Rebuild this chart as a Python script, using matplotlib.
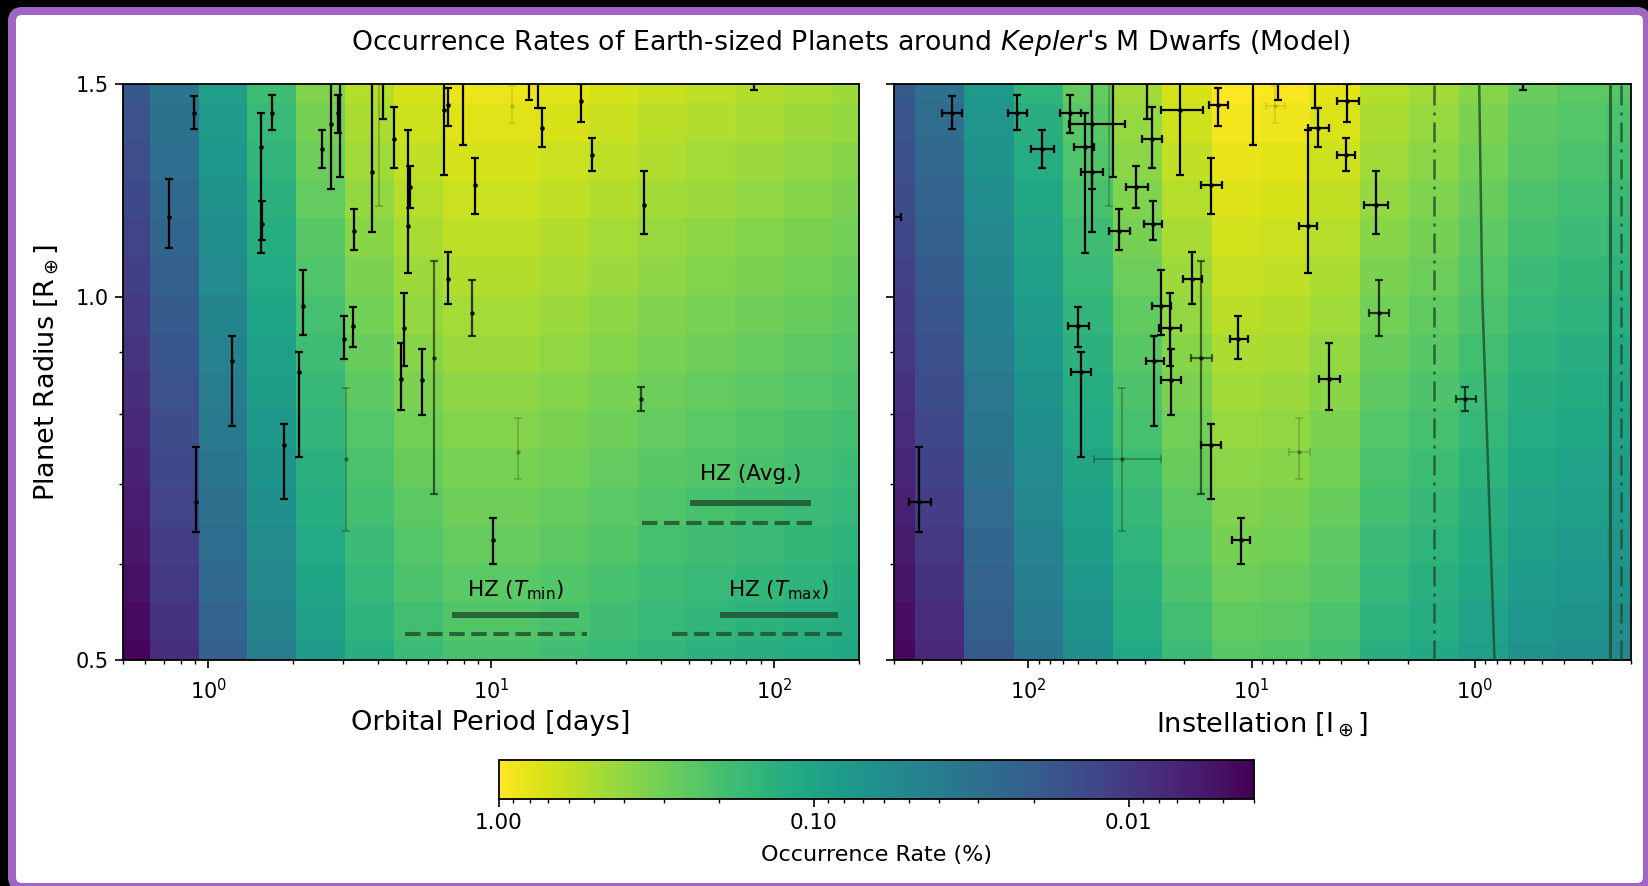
import numpy as np
import matplotlib
matplotlib.use("Agg")
import matplotlib.pyplot as plt
from matplotlib.colors import LogNorm
from matplotlib.ticker import FixedLocator, FormatStrFormatter, NullFormatter, LogLocator
from matplotlib.patches import FancyBboxPatch
from matplotlib.transforms import IdentityTransform

# ---------------- data ----------------
period_edges = [0.417, 0.621, 0.925, 1.376, 2.048, 3.048, 4.536, 6.75, 10.0,
                14.88, 22.13, 32.96, 49.0, 72.9, 108.6, 161.6, 240.4]
period_rate = [0.0105, 0.0203, 0.0518, 0.106, 0.206, 0.321, 0.423, 0.499,
               0.499, 0.459, 0.411, 0.368, 0.339, 0.312, 0.287, 0.264]
instellation_edges = [535.8, 322.1, 193.6, 116.1, 69.8, 42.0, 25.2, 15.1, 9.10,
                      5.46, 3.28, 1.97, 1.18, 0.711, 0.428, 0.2565, 0.154]
instellation_rate = [0.0111, 0.0182, 0.0464, 0.0852, 0.156, 0.272, 0.423, 0.589,
                     0.557, 0.472, 0.321, 0.272, 0.218, 0.165, 0.148, 0.133]
radius_centers = [0.500, 0.538, 0.579, 0.623, 0.670, 0.721, 0.776, 0.835,
                  0.898, 0.966, 1.040, 1.119, 1.204, 1.295, 1.394, 1.500]
radius_weight = [0.404, 0.445, 0.490, 0.539, 0.593, 0.652, 0.718, 0.790,
                 0.869, 0.957, 1.053, 1.158, 1.275, 1.403, 1.544, 1.699]

planet_period = [0.893, 0.725, 0.907, 1.211, 1.532, 1.553, 1.675, 1.852, 2.091, 2.172,
                 2.534, 2.711, 2.869, 2.916, 3.012, 3.258, 3.077, 3.285, 3.800, 4.034,
                 4.166, 4.543, 5.158, 5.102, 4.940, 4.796, 5.700, 6.300, 6.795, 7.038,
                 7.020, 7.946, 8.757, 8.598, 11.89, 13.61, 14.64, 15.20, 20.75, 22.80,
                 34.67, 33.93, 12.49, 10.19, 85.0]
planet_radius = [1.418, 1.163, 0.676, 0.884, 1.331, 1.149, 1.418, 0.753, 0.866, 0.982,
                 1.324, 1.390, 1.418, 1.56, 0.923, 0.945, 0.733, 1.133, 1.268, 1.56,
                 1.56, 1.351, 1.233, 1.145, 0.941, 0.855, 0.853, 0.889, 1.428, 1.442,
                 1.035, 1.56, 1.237, 0.970, 1.437, 1.56, 1.56, 1.379, 1.451, 1.311,
                 1.192, 0.823, 0.744, 0.628, 1.56]
radius_lo = [1.377, 1.097, 0.638, 0.782, 1.087, 1.115, 1.374, 0.680, 0.736, 0.930,
             1.279, 1.228, 1.367, 1.255, 0.887, 0.909, 0.639, 1.092, 1.131, 1.189,
             1.402, 1.279, 1.185, 1.047, 0.876, 0.805, 0.798, 0.686, 1.262, 1.384,
             0.986, 1.336, 1.171, 0.927, 1.392, 1.455, 1.434, 1.329, 1.395, 1.270,
             1.126, 0.804, 0.706, 0.601, 1.484]
radius_hi = [1.465, 1.252, 0.751, 0.927, 1.419, 1.200, 1.470, 0.784, 0.899, 1.053,
             1.374, 1.62, 1.468, 1.65, 0.963, 0.980, 0.840, 1.181, 1.62, 1.65,
             1.65, 1.435, 1.282, 1.374, 1.007, 0.916, 0.905, 1.070, 1.52, 1.489,
             1.088, 1.65, 1.303, 1.033, 1.493, 1.65, 1.65, 1.434, 1.50, 1.352,
             1.270, 0.841, 0.794, 0.655, 1.65]
planet_instellation = [220, 415, 308, 27.3, 55.9, 27.8, 113, 15.2, 58.4, 25.5,
                       87.1, 52.1, 65.3, 41.6, 11.5, 59.8, 38.2, 39.3, 52.1, 43.6,
                       29.4, 28.1, 33.0, 5.59, 23.3, 4.51, 23.1, 16.8, 21.0, 14.1,
                       18.5, 9.83, 15.2, 2.70, 7.85, 7.63, 5.18, 5.04, 3.73, 3.79,
                       2.78, 1.105, 6.12, 11.2, 0.612]
instellation_lo = [199, 373, 273, 24.6, 50.6, 25.3, 101, 13.7, 52.7, 23.0,
                   77.1, 36.9, 58.1, 37.5, 10.4, 53.5, 25.5, 35.2, 46.2, 39.0,
                   26.5, 25.3, 29.2, 5.09, 20.8, 4.02, 20.7, 15.1, 16.6, 12.8,
                   16.7, 8.9, 13.6, 2.42, 7.08, 6.9, 4.7, 4.51, 3.30, 3.45,
                   2.44, 0.993, 5.47, 10.2, 0.55]
instellation_hi = [243, 460, 342, 29.8, 62.2, 30.5, 124, 16.8, 64.3, 28.0,
                   97.3, 66.1, 72.4, 46.0, 12.5, 66.5, 50.9, 43.6, 58.1, 48.0,
                   32.5, 31.1, 36.6, 6.12, 25.9, 5.00, 25.6, 18.7, 25.6, 15.5,
                   20.3, 10.8, 16.8, 2.98, 8.65, 8.4, 5.7, 5.59, 4.14, 4.14,
                   3.13, 1.218, 6.79, 12.3, 0.67]
planet_alpha = [1, 1, 1, 1, 1, 1, 1, 1, 1, 1,
                1, 1, 1, 1, 1, 1, 0.3, 1, 1, 0.25,
                1, 1, 1, 1, 1, 1, 1, 0.55, 1, 1,
                1, 1, 1, 0.75, 0.1, 1, 1, 1, 1, 1,
                1, 0.65, 0.2, 1, 1]

# habitable-zone period ranges (days)
hz_avg_cons = [50.7, 135.5]
hz_avg_opt = [34.2, 141.6]
hz_tmin_cons = [7.3, 20.4]
hz_tmin_opt = [4.95, 21.8]
hz_tmax_cons = [64.4, 169.0]
hz_tmax_opt = [43.5, 177.0]
# habitable-zone instellation limits
hz_opt_inner = 1.52
hz_opt_outer = 0.222
hz_cons_outer = 0.248
runaway_radius = [0.5, 1.0, 1.5]
runaway_instellation = [0.817, 0.927, 0.957]

# ---------------- figure ----------------
W, H = 1648, 886
fig = plt.figure(figsize=(W / 100, H / 100), dpi=100)
fig.patch.set_facecolor("black")

frame = FancyBboxPatch((12, -1), 1635, 876,
                       boxstyle="round,pad=0,rounding_size=10",
                       transform=IdentityTransform(), facecolor="white",
                       edgecolor="#a066c4", linewidth=8 * 72 / 100, zorder=-5)
fig.add_artist(frame)

def fx(px):
    return px / W

def fy(py):
    return 1 - py / H

ax1 = fig.add_axes([fx(123), fy(660), fx(736), 576 / H])
ax2 = fig.add_axes([fx(894), fy(660), fx(737), 576 / H])
cax = fig.add_axes([fx(499), fy(799), fx(755), 39 / H])

norm = LogNorm(vmin=0.004, vmax=1.0)
r = np.array(radius_centers)
mid = np.sqrt(r[:-1] * r[1:])
radius_edges = np.concatenate([[r[0] ** 2 / mid[0]], mid, [r[-1] ** 2 / mid[-1]]])
Z1 = np.outer(radius_weight, period_rate)
Z2 = np.outer(radius_weight, instellation_rate)

mesh = ax1.pcolormesh(period_edges, radius_edges, Z1, norm=norm, cmap="viridis",
                      shading="flat", zorder=0)
ax2.pcolormesh(instellation_edges, radius_edges, Z2, norm=norm, cmap="viridis",
               shading="flat", zorder=0)

for ax in (ax1, ax2):
    ax.set_xscale("log")
    ax.set_yscale("log")
    ax.set_ylim(0.5, 1.5)
    ax.yaxis.set_major_locator(FixedLocator([0.5, 1.0, 1.5]))
    ax.yaxis.set_major_formatter(FormatStrFormatter("%.1f"))
    ax.yaxis.set_minor_locator(LogLocator(base=10, subs=np.arange(2, 10)))
    ax.yaxis.set_minor_formatter(NullFormatter())
    ax.tick_params(which="major", length=6, width=1.2, labelsize=15, pad=4)
    ax.tick_params(which="minor", length=3.2, width=1.0)
    ax.tick_params(axis="x", which="major", pad=7)
    for s in ax.spines.values():
        s.set_linewidth(1.3)

ax1.set_xlim(0.5, 200)
ax2.set_xlim(400, 0.2)
ax2.tick_params(axis="y", labelleft=False)

hz_color = "#1e4d2b"
# errorbars
for i in range(len(planet_period)):
    a = planet_alpha[i]
    lw = 1.6 if a >= 0.5 else 1.1
    R = planet_radius[i]
    yerr = [[R - radius_lo[i]], [radius_hi[i] - R]]
    ax1.errorbar([planet_period[i]], [R], yerr=yerr, fmt="o", ms=2.3, color="k",
                 ecolor="k", elinewidth=lw, capsize=3.2, capthick=lw, alpha=a, zorder=5)
    S = planet_instellation[i]
    xerr = [[S - instellation_lo[i]], [instellation_hi[i] - S]]
    ax2.errorbar([S], [R], xerr=xerr, yerr=yerr, fmt="o", ms=2.3, color="k",
                 ecolor="k", elinewidth=lw, capsize=3.2, capthick=lw, alpha=a, zorder=5)

# HZ bars, left panel
for cons, opt, y_s, y_d, label, y_t in [
        (hz_avg_cons, hz_avg_opt, 0.675, 0.649, "HZ (Avg.)", 0.705),
        (hz_tmin_cons, hz_tmin_opt, 0.545, 0.525, r"HZ ($T_{\rm min}$)", 0.564),
        (hz_tmax_cons, hz_tmax_opt, 0.545, 0.525, r"HZ ($T_{\rm max}$)", 0.564)]:
    ax1.plot(cons, [y_s, y_s], color=hz_color, lw=4.3, alpha=0.8,
             solid_capstyle="butt", zorder=3)
    ax1.plot(opt, [y_d, y_d], color=hz_color, lw=3.0, alpha=0.8, ls="--", zorder=3)
    ax1.text(np.sqrt(cons[0] * cons[1]), y_t, label, ha="center", va="baseline",
             fontsize=15.5, color="black", zorder=6)

# HZ limits, right panel
dashdot = (0, (8, 2.8, 1.2, 2.8))
ax2.axvline(hz_opt_inner, color=hz_color, lw=1.8, alpha=0.8, ls=dashdot, zorder=3)
ax2.axvline(hz_opt_outer, color=hz_color, lw=1.8, alpha=0.8, ls=dashdot, zorder=3)
ax2.axvline(hz_cons_outer, color=hz_color, lw=2.2, alpha=0.8, zorder=3)
ax2.plot(runaway_instellation, runaway_radius, color=hz_color, lw=1.8, alpha=0.8, zorder=3)

ax1.set_xlabel("Orbital Period [days]", fontsize=19.5, labelpad=5)
ax2.set_xlabel(r"Instellation [I$_\oplus$]", fontsize=19.5, labelpad=5)
ax1.set_ylabel(r"Planet Radius [R$_\oplus$]", fontsize=19.5, labelpad=11)

fig.text(fx(851), fy(43),
         r"Occurrence Rates of Earth-sized Planets around $\it{Kepler}$'s M Dwarfs (Model)",
         ha="center", va="center", fontsize=19.3)

# colorbar
cb = fig.colorbar(mesh, cax=cax, orientation="horizontal")
cax.invert_xaxis()
cb.set_ticks([1.0, 0.1, 0.01])
cb.set_ticklabels(["1.00", "0.10", "0.01"])
cax.xaxis.set_minor_locator(LogLocator(base=10, subs=np.arange(2, 10)))
cax.xaxis.set_minor_formatter(NullFormatter())
cax.tick_params(which="major", length=6, width=1.2, labelsize=15.5, pad=4)
cax.tick_params(which="minor", length=3.2, width=1.0)
cb.outline.set_linewidth(1.3)
cb.set_label("Occurrence Rate (%)", fontsize=16, labelpad=9)

fig.savefig("out.png", dpi=100, facecolor="black")
